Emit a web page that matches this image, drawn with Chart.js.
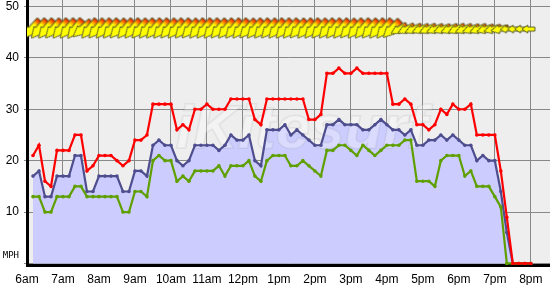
<!DOCTYPE html>
<html><head><meta charset="utf-8">
<script src="https://cdn.jsdelivr.net/npm/chart.js@4/dist/chart.umd.min.js"></script>
<style>html,body{margin:0;padding:0;background:#fff}canvas{display:block}</style>
</head><body>
<canvas id="c" width="550" height="285"></canvas>
<script>
// ---- data ----
const hourLabels = ['6am','7am','8am','9am','10am','11am','12pm','1pm','2pm','3pm','4pm','5pm','6pm','7pm','8pm'];
const yTicks = [0,10,20,30,40,50];
// minutes after 6am
const times = [10,20,30,40,50,60,70,80,90,100,110,120,130,140,150,160,170,180,190,200,
  210,220,230,240,250,260,270,280,290,300,310,320,330,340,350,360,370,380,390,400,
  410,420,430,440,450,460,470,480,490,500,510,520,530,540,550,560,570,580,590,600,
  610,620,630,640,650,660,670,680,690,700,710,720,730,740,750,760,770,780,790,800,
  810,820,830,840];
const gust = [21,23,16,15,22,22,22,25,25,18, 19,21,21,21,20,19,20,24,24,25,
  31,31,31,31,26,27,26,30,30,31, 30,30,30,32,32,32,32,28,27,32,
  32,32,32,32,32,32,28,28,29,37, 37,38,37,37,38,37,37,37,37,37,
  31,31,32,31,27,27,26,27,30,29, 31,30,30,31,25,25,25,25,18,9, 0,0,0,0];
const avg = [17,18,13,13,17,17,17,21,21,14, 14,17,17,17,17,14,14,18,18,17,
  23,24,23,23,20,19,20,23,23,23, 23,22,23,25,24,24,25,20,19,26,
  26,26,27,25,26,25,24,23,23,27, 27,28,27,27,27,26,26,27,28,27,
  26,26,25,26,23,23,24,24,25,24, 25,24,23,23,20,21,20,20,14,6, 0,0,0,0];
const lull = [13,13,10,10,13,13,13,15,15,13, 13,13,13,13,13,10,10,14,14,13,
  20,21,20,20,16,17,16,18,18,18, 18,19,17,19,19,19,20,17,16,20,
  21,21,21,19,19,20,19,18,17,22, 22,23,23,22,21,23,22,21,22,23,
  23,23,24,24,16,16,16,15,20,21, 21,21,17,18,15,15,15,13,11,0, 0,0,0,0];
// wind direction arrows
const arrowTimes = [8,20,32,44,56,68,80,92,104,116,128,140,152,164,176,188,200,212,224,236,
  248,260,272,284,296,308,320,332,344,356,368,380,392,404,416,428,440,452,464,476,
  488,500,512,524,536,548,560,572,584,596,608,620,632,644,656,668,680,692,704,716,
  728,740,752,764,776,788,800,812,824,836];
const arrowDir = [42,40,40,41,40,40,38,50,40,41, 40,40,42,40,40,41,40,40,40,41,
  40,40,42,40,40,40,41,40,40,40, 42,40,40,41,40,40,40,42,40,40,
  41,40,40,40,42,40,40,41,40,40, 45,60,64,66,68,66,68,70,68,66,
  68,70,68,72,74,78,86,88,90,90];
const arrowSpeed = [24,25,24,24,25,24,24,23,24,25, 24,24,25,24,24,25,24,24,24,25,
  24,25,24,24,25,24,24,25,24,24, 25,24,24,25,24,24,25,24,24,25,
  24,24,25,24,24,25,24,24,25,24, 23,18,17,18,17,18,17,18,17,18,
  17,18,17,16,16,15,9,9,8,8];

// ---- arrow images ----
function makeArrow(len, w, head, redTail) {
  const c = document.createElement('canvas');
  c.width = head + 4; c.height = len + 4;
  const g = c.getContext('2d');
  const cx = c.width / 2, top = 2, bot = len + 2, hy = top + len * 0.55;
  g.beginPath();
  g.moveTo(cx - w / 2, top); g.lineTo(cx + w / 2, top); g.lineTo(cx + w / 2, hy);
  g.lineTo(cx + head / 2, hy); g.lineTo(cx, bot); g.lineTo(cx - head / 2, hy);
  g.lineTo(cx - w / 2, hy); g.closePath();
  const grad = g.createLinearGradient(0, top, 0, bot);
  if (redTail) {
    grad.addColorStop(0, '#ee1100'); grad.addColorStop(redTail, '#ff8800');
    grad.addColorStop(redTail * 1.9, '#ffff00'); grad.addColorStop(1, '#ffff00');
  } else {
    grad.addColorStop(0, '#ffff00'); grad.addColorStop(1, '#ffff00');
  }
  g.fillStyle = grad; g.fill();
  g.strokeStyle = '#5a5a2a'; g.lineWidth = 1; g.stroke();
  return c;
}
const bigArrow = makeArrow(24, 7, 11, 0.16);
const medArrow = makeArrow(18, 5, 9, 0.12);
const smallArrow = makeArrow(13, 4, 8, 0);
const ARROW_LEVEL = 45.6;

// ---- plugins ----
const bgPlugin = {
  id: 'bg',
  beforeDraw(chart) {
    const {ctx, chartArea: a} = chart;
    ctx.save();
    ctx.fillStyle = '#ffffff'; ctx.fillRect(0, 0, chart.width, chart.height);
    ctx.fillStyle = '#eeeeee'; ctx.fillRect(a.left, a.top, a.right - a.left, a.bottom - a.top);
    ctx.restore();
  },
  beforeDatasetsDraw(chart) {
    const {ctx, chartArea: a} = chart;
    ctx.save();
    ctx.beginPath(); ctx.rect(a.left, a.top, a.right - a.left, a.bottom - a.top); ctx.clip();
    ctx.font = 'italic bold 62px "Liberation Sans", Arial, sans-serif';
    ctx.textAlign = 'center'; ctx.textBaseline = 'alphabetic';
    const cx = a.left + (a.right - a.left) * 0.525, by = a.top + 148;
    ctx.lineWidth = 2; ctx.strokeStyle = 'rgba(130,130,130,0.13)';
    ctx.strokeText('iKitesurf', cx, by);
    ctx.fillStyle = 'rgba(255,255,255,0.3)';
    ctx.fillText('iKitesurf', cx, by);
    ctx.restore();
  }
};

const mk = (vals) => times.map((t, i) => ({x: t, y: vals[i]}));
const lineStyle = (color) => ({
  borderColor: color, pointBackgroundColor: color, pointBorderColor: color,
  pointRadius: 1.8, pointBorderWidth: 0, borderWidth: 2.2, tension: 0
});

new Chart(document.getElementById('c'), {
  type: 'line',
  data: {
    datasets: [
      {
        label: 'dir', showLine: false,
        data: arrowTimes.map(t => ({x: t, y: ARROW_LEVEL})),
        pointStyle: (ctx) => {
          const s = arrowSpeed[ctx.dataIndex];
          return s >= 21 ? bigArrow : (s >= 12 ? medArrow : smallArrow);
        },
        pointRotation: (ctx) => arrowDir[ctx.dataIndex],
        pointRadius: 6, fill: false
      },
      Object.assign({label: 'gust', data: mk(gust), fill: false}, lineStyle('#ff0000')),
      Object.assign({label: 'lull', data: mk(lull), fill: false}, lineStyle('#5fa000')),
      Object.assign({label: 'avg', data: mk(avg), fill: 'origin', backgroundColor: '#ccccff'}, lineStyle('#4e4e8e'))
    ]
  },
  options: {
    responsive: false, animation: false, devicePixelRatio: 1,
    layout: {autoPadding: false, padding: 0},
    plugins: {legend: {display: false}, tooltip: {enabled: false}, filler: {drawTime: 'beforeDatasetsDraw'}},
    scales: {
      x: {
        type: 'linear', min: 0, max: 872,
        afterBuildTicks: (s) => { s.ticks = hourLabels.map((_, i) => ({value: i * 60})); },
        afterFit: (s) => { s.height = 20; s.paddingLeft = 0; s.paddingRight = 0; },
        ticks: {
          autoSkip: false, maxRotation: 0, padding: 7, color: '#000',
          font: {family: '"Liberation Sans", Arial, sans-serif', size: 12},
          callback: (v) => hourLabels[Math.round(v / 60)]
        },
        grid: {color: '#888888', lineWidth: 1, drawTicks: false},
        border: {color: '#000000', width: 3}
      },
      y: {
        type: 'linear', min: -0.3, max: 51.26,
        afterBuildTicks: (s) => { s.ticks = yTicks.map(v => ({value: v})); },
        afterFit: (s) => { s.width = 27; s.paddingTop = 0; s.paddingBottom = 0; },
        ticks: {
          padding: 5, color: '#000',
          font: (ctx) => (ctx.tick && ctx.tick.value === 0)
            ? {family: '"DejaVu Sans Mono", monospace', size: 9, lineHeight: 1.7}
            : {family: '"Liberation Sans", Arial, sans-serif', size: 12},
          callback: (v) => v === 0 ? ['MPH', ''] : String(v)
        },
        grid: {color: '#888888', lineWidth: 1, tickLength: 3},
        border: {color: '#000000', width: 3}
      }
    }
  },
  plugins: [bgPlugin]
});
</script>
</body></html>
